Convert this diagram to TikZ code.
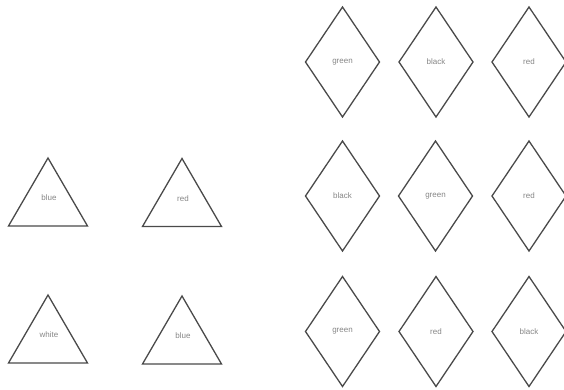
\documentclass[tikz,border=0pt]{standalone}
\usepackage{fontspec}
\setmainfont{Liberation Sans}
\definecolor{edge}{HTML}{4A4A4A}
\definecolor{txt}{HTML}{858585}
\begin{document}
\begin{tikzpicture}[x=1pt,y=-1pt,
  shapeline/.style={draw=edge,line width=1.3pt,line join=miter},
  lbl/.style={font=\fontsize{8}{9}\selectfont,text=txt,inner sep=0pt},
  tri/.pic={\draw[shapeline] (0,0) -- (39.5,68) -- (-39.5,68) -- cycle;
            \node[lbl] (-label) at (1,40) {#1};},
  diam/.pic={\draw[shapeline] (0,-55) -- (37,0) -- (0,55) -- (-37,0) -- cycle;
             \node[lbl] (-label) at (0,0) {#1};}]
\useasboundingbox (0,0) rectangle (564,389);
% triangles (origin = apex)
\pic (t1) at (48,158) {tri=blue};
\pic (t2) at (182,158.5) {tri=red};
\pic (t3) at (48,295) {tri=white};
\pic (t4) at (182,296) {tri=blue};
% diamonds (origin = centre)
\pic (d11) at (342.5,62) {diam=green};
\pic (d12) at (436,62) {diam=black};
\pic (d13) at (529,62) {diam=red};
\pic (d21) at (342.5,196) {diam=black};
\pic (d22) at (435.5,196) {diam=green};
\pic (d23) at (529,196) {diam=red};
\pic (d31) at (342.5,331.5) {diam=green};
\pic (d32) at (436,331.5) {diam=red};
\pic (d33) at (529,331.5) {diam=black};
\end{tikzpicture}
\end{document}
